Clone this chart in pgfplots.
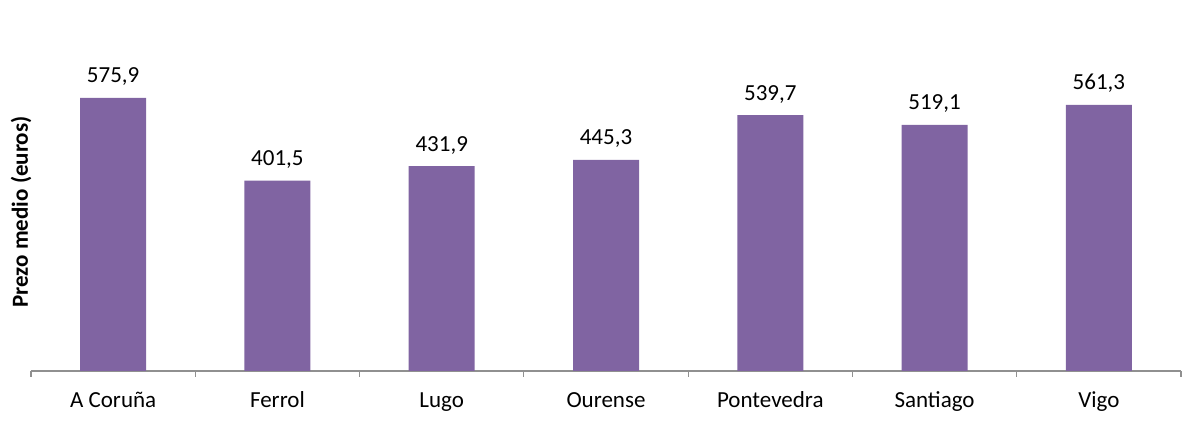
\documentclass[border=0pt]{standalone}
\usepackage{fontspec}
\setmainfont{Carlito}
\usepackage{pgfplots}
\pgfplotsset{compat=1.18}
\definecolor{barpurple}{HTML}{8064A2}
\definecolor{axgray}{HTML}{909090}
\begin{document}
\begin{tikzpicture}
\path[use as bounding box] (-15.5pt,-27.5pt) rectangle (584.5pt,185.5pt);
\begin{axis}[
  at={(0,0)}, anchor=south west,
  scale only axis,
  width=575pt, height=166pt,
  xmin=-0.5, xmax=6.5,
  ymin=0, ymax=700,
  axis x line=bottom,
  axis y line=left,
  x axis line style={-, draw=axgray, line width=0.6pt},
  y axis line style={draw=none},
  ytick=\empty,
  xtick={0,1,2,3,4,5,6},
  xticklabels={A Coruña, Ferrol, Lugo, Ourense, Pontevedra, Santiago, Vigo},
  major tick length=0pt,
  xticklabel style={font=\fontsize{11.5}{13}\selectfont, anchor=base, yshift=-18.5pt, text=black},
  extra x ticks={-0.5,0.5,1.5,2.5,3.5,4.5,5.5,6.5},
  extra x tick labels={},
  extra x tick style={major tick length=3pt, tick align=outside, tick style={draw=axgray, line width=0.6pt}},
  ylabel={\bfseries Prezo medio (euros)},
  ylabel style={font=\fontsize{11.5}{13}\selectfont, at={(axis description cs:-0.0087,0.479)}, anchor=center, rotate=0},
  ybar, bar width=33pt,
  nodes near coords,
  point meta=explicit symbolic,
  every node near coord/.append style={font=\fontsize{11.5}{13}\selectfont, anchor=base, yshift=7.5pt, inner sep=0pt, text=black},
  clip=false,
]
\addplot[fill=barpurple, draw=none] coordinates {
  (0,575.9) [575,9]
  (1,401.5) [401,5]
  (2,431.9) [431,9]
  (3,445.3) [445,3]
  (4,539.7) [539,7]
  (5,519.1) [519,1]
  (6,561.3) [561,3]
};
\end{axis}
\end{tikzpicture}
\end{document}
